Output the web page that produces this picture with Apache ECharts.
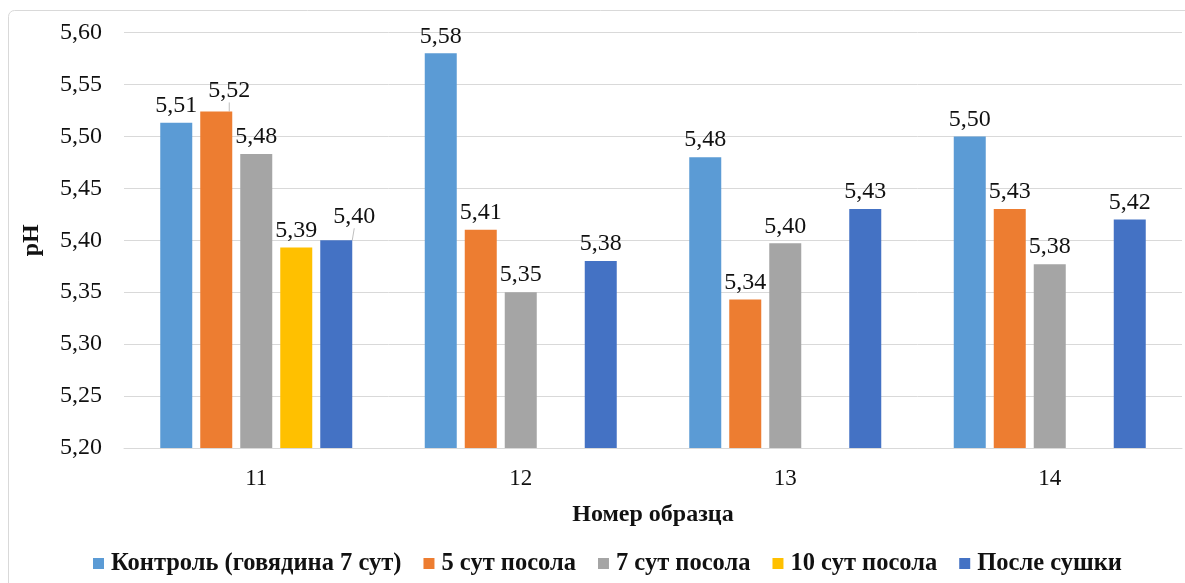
<!DOCTYPE html>
<html>
<head>
<meta charset="utf-8">
<script src="https://cdn.jsdelivr.net/npm/echarts@6/dist/echarts.min.js"></script>
<style>
  html, body { margin: 0; padding: 0; background: #fff; }
  #chart { width: 1185px; height: 583px; }
</style>
</head>
<body>
<div id="chart"></div>
<script>
// Samples and pH readings per processing stage
const categories = ['11', '12', '13', '14'];
const seriesNames = ['Контроль (говядина 7 сут)', '5 сут посола', '7 сут посола', '10 сут посола', 'После сушки'];
const control7 = [5.513, 5.58, 5.48, 5.50];
const salting5 = [5.524, 5.41, 5.343, 5.43];
const salting7 = [5.483, 5.35, 5.397, 5.377];
const salting10 = [5.393, null, null, null];
const afterDrying = [5.40, 5.38, 5.43, 5.42];
const yTicks = { min: 5.20, max: 5.60, step: 0.05 };

const colors = ['#5B9BD5', '#ED7D31', '#A5A5A5', '#FFC000', '#4472C4'];
const serif = '"Liberation Serif", "Times New Roman", serif';
const fmt = v => Number(v).toFixed(2).replace('.', ',');

// labels pulled aside with a short leader line
const shifted = { '1-0': { dx: 13, dy: -4 }, '4-0': { dx: 18, dy: -7 } };

function makeSeries(idx, values) {
  return {
    name: seriesNames[idx],
    type: 'bar',
    barWidth: 32,
    barGap: '25%',
    itemStyle: { color: colors[idx] },
    data: values.map((v, i) => {
      if (v === null) return null;
      const item = { value: v };
      if (shifted[idx + '-' + i]) {
        item.labelLine = { show: true, lineStyle: { color: '#bfbfbf', width: 1 } };
      }
      return item;
    }),
    label: {
      show: true,
      position: 'top',
      distance: 5,
      fontFamily: serif,
      fontSize: 24,
      color: '#111',
      formatter: p => fmt(p.value)
    },
    labelLine: { show: false },
    labelLayout: function (p) {
      const s = shifted[idx + '-' + p.dataIndex];
      return s ? { dx: s.dx, dy: s.dy } : {};
    }
  };
}

const chart = echarts.init(document.getElementById('chart'), null, { renderer: 'canvas' });
chart.setOption({
  animation: false,
  backgroundColor: '#fff',
  graphic: [{
    type: 'rect',
    shape: { x: 8.5, y: 10.5, width: 1220, height: 620, r: 6 },
    style: { fill: 'none', stroke: '#d9d9d9', lineWidth: 1 },
    silent: true,
    z: -1
  }],
  grid: { left: 124, right: 3, top: 32.5, bottom: 135, containLabel: false },
  legend: {
    data: seriesNames,
    left: 88,
    bottom: 2,
    itemWidth: 11,
    itemHeight: 11,
    itemGap: 22,
    icon: 'rect',
    textStyle: { fontFamily: serif, fontWeight: 'bold', fontSize: 24.5, color: '#111', padding: [0, 0, 0, 2] }
  },
  xAxis: {
    type: 'category',
    data: categories,
    name: 'Номер образца',
    nameLocation: 'middle',
    nameGap: 55,
    nameTextStyle: { fontFamily: serif, fontWeight: 'bold', fontSize: 24, color: '#111' },
    axisLine: { lineStyle: { color: '#d9d9d9' } },
    axisTick: { show: false },
    axisLabel: { fontFamily: serif, fontSize: 23, color: '#111', margin: 19 }
  },
  yAxis: {
    type: 'value',
    min: yTicks.min,
    max: yTicks.max,
    interval: yTicks.step,
    name: 'pH',
    nameLocation: 'middle',
    nameGap: 80,
    nameRotate: 90,
    nameTextStyle: { fontFamily: serif, fontWeight: 'bold', fontSize: 24, color: '#111' },
    axisLine: { show: false },
    axisTick: { show: false },
    splitLine: { lineStyle: { color: '#d9d9d9' } },
    axisLabel: { fontFamily: serif, fontSize: 24, color: '#111', margin: 22, formatter: v => fmt(v) }
  },
  series: [
    makeSeries(0, control7),
    makeSeries(1, salting5),
    makeSeries(2, salting7),
    makeSeries(3, salting10),
    makeSeries(4, afterDrying)
  ]
});
</script>
</body>
</html>
